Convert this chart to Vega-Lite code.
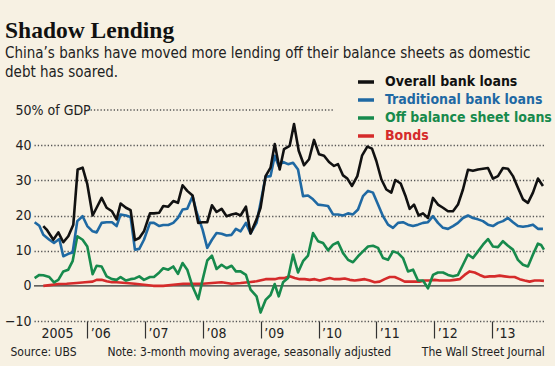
{
  "$schema": "https://vega.github.io/schema/vega-lite/v6.json",
  "autosize": "none",
  "width": 510,
  "height": 211,
  "padding": {"left": 34, "top": 110, "right": 11, "bottom": 45},
  "background": "#f7f1e3",
  "config": {"view": {"stroke": null}},
  "title": {
    "text": "Shadow Lending",
    "subtitle": ["China’s banks have moved more lending off their balance sheets as domestic", "debt has soared."],
    "anchor": "start",
    "frame": "group",
    "dx": -29,
    "offset": -8,
    "font": "Liberation Serif",
    "fontSize": 23.5,
    "fontWeight": "bold",
    "color": "#111",
    "subtitleFont": "Liberation Sans Narrow, DejaVu Sans Condensed",
    "subtitleFontSize": 15,
    "subtitleColor": "#222",
    "subtitlePadding": 4,
    "subtitleLineHeight": 19
  },
  "datasets": {
    "overall": [
      {"t":2005.239,"v":17.0},{"t":2005.297,"v":16.0},{"t":2005.412,"v":13.1},{"t":2005.499,"v":15.2},{"t":2005.585,"v":12.4},{"t":2005.671,"v":14.1},{"t":2005.758,"v":17.4},{"t":2005.833,"v":33.1},{"t":2005.919,"v":33.6},{"t":2006.0,"v":28.9},
      {"t":2006.092,"v":20.0},{"t":2006.161,"v":22.2},{"t":2006.248,"v":25.0},{"t":2006.334,"v":22.2},{"t":2006.427,"v":21.2},{"t":2006.507,"v":18.9},{"t":2006.576,"v":23.4},{"t":2006.669,"v":22.2},{"t":2006.749,"v":21.5},{"t":2006.824,"v":13.0},{"t":2006.899,"v":13.6},{"t":2006.98,"v":15.5},
      {"t":2007.084,"v":20.6},{"t":2007.153,"v":20.6},{"t":2007.245,"v":20.8},{"t":2007.314,"v":22.7},{"t":2007.401,"v":22.5},{"t":2007.487,"v":24.1},{"t":2007.568,"v":23.6},{"t":2007.648,"v":28.6},{"t":2007.729,"v":27.0},{"t":2007.821,"v":25.7},{"t":2007.919,"v":17.9},{"t":2007.994,"v":18.1},
      {"t":2008.075,"v":18.1},{"t":2008.156,"v":22.9},{"t":2008.236,"v":21.0},{"t":2008.323,"v":21.9},{"t":2008.409,"v":19.8},{"t":2008.496,"v":20.3},{"t":2008.571,"v":20.6},{"t":2008.651,"v":20.0},{"t":2008.744,"v":22.5},{"t":2008.824,"v":14.9},{"t":2008.928,"v":18.9},{"t":2008.997,"v":22.2},
      {"t":2009.084,"v":31.2},{"t":2009.17,"v":33.6},{"t":2009.242,"v":40.3},{"t":2009.328,"v":33.1},{"t":2009.403,"v":38.9},{"t":2009.501,"v":39.8},{"t":2009.576,"v":46.0},{"t":2009.657,"v":38.4},{"t":2009.749,"v":34.3},{"t":2009.836,"v":36.0},{"t":2009.922,"v":41.5},
      {"t":2010.009,"v":37.4},{"t":2010.095,"v":37.0},{"t":2010.181,"v":35.2},{"t":2010.268,"v":34.1},{"t":2010.337,"v":34.6},{"t":2010.424,"v":31.4},{"t":2010.498,"v":30.5},{"t":2010.579,"v":28.4},{"t":2010.671,"v":31.2},{"t":2010.752,"v":37.0},{"t":2010.844,"v":39.6},{"t":2010.925,"v":39.0},
      {"t":2011.0,"v":35.5},{"t":2011.086,"v":30.3},{"t":2011.173,"v":27.4},{"t":2011.259,"v":26.5},{"t":2011.328,"v":30.1},{"t":2011.421,"v":29.1},{"t":2011.501,"v":25.7},{"t":2011.576,"v":21.9},{"t":2011.651,"v":23.1},{"t":2011.732,"v":20.0},{"t":2011.807,"v":20.6},{"t":2011.893,"v":19.3},{"t":2011.98,"v":25.0},
      {"t":2012.066,"v":23.1},{"t":2012.153,"v":22.2},{"t":2012.239,"v":21.2},{"t":2012.326,"v":21.2},{"t":2012.412,"v":23.1},{"t":2012.498,"v":27.4},{"t":2012.585,"v":33.0},{"t":2012.671,"v":32.7},{"t":2012.758,"v":33.1},{"t":2012.844,"v":33.3},{"t":2012.931,"v":33.5},
      {"t":2013.017,"v":30.5},{"t":2013.104,"v":31.2},{"t":2013.19,"v":33.5},{"t":2013.277,"v":33.3},{"t":2013.363,"v":31.2},{"t":2013.449,"v":27.9},{"t":2013.536,"v":24.6},{"t":2013.622,"v":23.6},{"t":2013.709,"v":26.5},{"t":2013.795,"v":30.5},{"t":2013.882,"v":28.4}
    ],
    "traditional": [
      {"t":2005.089,"v":18.1},{"t":2005.17,"v":17.1},{"t":2005.239,"v":14.5},{"t":2005.343,"v":13.1},{"t":2005.424,"v":12.2},{"t":2005.516,"v":13.3},{"t":2005.585,"v":8.4},{"t":2005.671,"v":9.1},{"t":2005.746,"v":9.5},{"t":2005.827,"v":18.4},{"t":2005.919,"v":19.8},
      {"t":2006.0,"v":17.0},{"t":2006.092,"v":15.5},{"t":2006.161,"v":15.2},{"t":2006.248,"v":17.9},{"t":2006.334,"v":18.1},{"t":2006.427,"v":18.1},{"t":2006.507,"v":17.0},{"t":2006.576,"v":20.3},{"t":2006.669,"v":20.0},{"t":2006.749,"v":19.6},{"t":2006.824,"v":10.3},{"t":2006.899,"v":10.5},{"t":2006.98,"v":13.1},
      {"t":2007.084,"v":17.9},{"t":2007.153,"v":17.9},{"t":2007.245,"v":17.0},{"t":2007.314,"v":17.3},{"t":2007.401,"v":17.3},{"t":2007.487,"v":17.9},{"t":2007.568,"v":19.3},{"t":2007.648,"v":21.7},{"t":2007.729,"v":21.9},{"t":2007.821,"v":25.5},{"t":2007.89,"v":21.0},{"t":2007.994,"v":16.0},
      {"t":2008.075,"v":10.8},{"t":2008.156,"v":13.1},{"t":2008.236,"v":15.0},{"t":2008.323,"v":14.8},{"t":2008.409,"v":14.3},{"t":2008.496,"v":14.5},{"t":2008.571,"v":16.2},{"t":2008.651,"v":15.5},{"t":2008.744,"v":17.9},{"t":2008.824,"v":14.9},{"t":2008.928,"v":17.9},{"t":2008.997,"v":23.6},
      {"t":2009.084,"v":31.0},{"t":2009.17,"v":31.2},{"t":2009.242,"v":37.0},{"t":2009.311,"v":34.1},{"t":2009.386,"v":35.2},{"t":2009.473,"v":34.6},{"t":2009.559,"v":35.0},{"t":2009.645,"v":33.1},{"t":2009.732,"v":25.5},{"t":2009.818,"v":25.7},{"t":2009.905,"v":24.6},{"t":2009.991,"v":23.1},
      {"t":2010.078,"v":22.9},{"t":2010.164,"v":22.7},{"t":2010.251,"v":20.3},{"t":2010.337,"v":20.3},{"t":2010.424,"v":20.0},{"t":2010.51,"v":20.6},{"t":2010.596,"v":20.3},{"t":2010.683,"v":21.7},{"t":2010.769,"v":25.5},{"t":2010.856,"v":27.0},{"t":2010.942,"v":26.5},
      {"t":2011.029,"v":23.1},{"t":2011.115,"v":19.8},{"t":2011.202,"v":17.4},{"t":2011.288,"v":16.5},{"t":2011.375,"v":17.9},{"t":2011.461,"v":18.1},{"t":2011.547,"v":17.4},{"t":2011.634,"v":17.0},{"t":2011.72,"v":17.4},{"t":2011.807,"v":17.9},{"t":2011.893,"v":18.1},{"t":2011.98,"v":19.8},
      {"t":2012.066,"v":17.9},{"t":2012.153,"v":16.5},{"t":2012.239,"v":16.2},{"t":2012.326,"v":17.0},{"t":2012.412,"v":17.9},{"t":2012.498,"v":19.3},{"t":2012.585,"v":20.0},{"t":2012.671,"v":19.3},{"t":2012.758,"v":18.9},{"t":2012.844,"v":18.4},{"t":2012.931,"v":17.4},
      {"t":2013.017,"v":17.0},{"t":2013.104,"v":17.9},{"t":2013.19,"v":18.4},{"t":2013.277,"v":19.3},{"t":2013.363,"v":18.1},{"t":2013.449,"v":17.0},{"t":2013.536,"v":16.8},{"t":2013.622,"v":17.0},{"t":2013.709,"v":17.4},{"t":2013.795,"v":16.2},{"t":2013.882,"v":16.2}
    ],
    "offbalance": [
      {"t":2005.089,"v":2.2},{"t":2005.17,"v":3.1},{"t":2005.239,"v":3.0},{"t":2005.343,"v":2.5},{"t":2005.424,"v":1.0},{"t":2005.499,"v":1.7},{"t":2005.585,"v":4.1},{"t":2005.671,"v":4.6},{"t":2005.746,"v":7.0},{"t":2005.827,"v":14.1},{"t":2005.919,"v":13.1},
      {"t":2006.0,"v":11.2},{"t":2006.092,"v":3.3},{"t":2006.161,"v":5.7},{"t":2006.248,"v":5.5},{"t":2006.334,"v":2.7},{"t":2006.427,"v":1.9},{"t":2006.507,"v":1.7},{"t":2006.576,"v":2.5},{"t":2006.669,"v":1.5},{"t":2006.749,"v":1.9},{"t":2006.824,"v":2.1},{"t":2006.899,"v":2.7},{"t":2006.98,"v":1.7},
      {"t":2007.084,"v":2.5},{"t":2007.153,"v":2.5},{"t":2007.245,"v":3.8},{"t":2007.314,"v":5.0},{"t":2007.401,"v":4.6},{"t":2007.487,"v":5.5},{"t":2007.568,"v":3.4},{"t":2007.648,"v":6.5},{"t":2007.729,"v":4.6},{"t":2007.821,"v":-0.2},{"t":2007.919,"v":-3.8},{"t":2007.994,"v":1.7},
      {"t":2008.075,"v":7.2},{"t":2008.156,"v":8.6},{"t":2008.236,"v":4.8},{"t":2008.323,"v":6.0},{"t":2008.409,"v":5.0},{"t":2008.496,"v":5.7},{"t":2008.571,"v":4.1},{"t":2008.651,"v":4.1},{"t":2008.744,"v":3.1},{"t":2008.824,"v":-1.1},{"t":2008.928,"v":-3.0},{"t":2008.997,"v":-7.6},
      {"t":2009.084,"v":-4.0},{"t":2009.17,"v":-2.6},{"t":2009.242,"v":0.5},{"t":2009.311,"v":-3.0},{"t":2009.386,"v":1.0},{"t":2009.473,"v":2.2},{"t":2009.559,"v":8.9},{"t":2009.645,"v":3.8},{"t":2009.732,"v":7.0},{"t":2009.818,"v":8.6},{"t":2009.905,"v":15.0},{"t":2009.991,"v":12.7},
      {"t":2010.078,"v":12.2},{"t":2010.164,"v":10.1},{"t":2010.251,"v":11.7},{"t":2010.337,"v":12.4},{"t":2010.424,"v":9.3},{"t":2010.51,"v":7.4},{"t":2010.596,"v":6.7},{"t":2010.683,"v":8.4},{"t":2010.769,"v":9.8},{"t":2010.856,"v":11.2},{"t":2010.942,"v":11.4},
      {"t":2011.029,"v":10.8},{"t":2011.115,"v":7.9},{"t":2011.202,"v":7.4},{"t":2011.288,"v":9.8},{"t":2011.375,"v":9.3},{"t":2011.461,"v":7.9},{"t":2011.547,"v":4.1},{"t":2011.634,"v":4.6},{"t":2011.72,"v":1.5},{"t":2011.807,"v":1.5},{"t":2011.893,"v":-0.7},{"t":2011.98,"v":3.1},
      {"t":2012.066,"v":3.8},{"t":2012.153,"v":3.8},{"t":2012.239,"v":3.1},{"t":2012.326,"v":2.7},{"t":2012.412,"v":3.1},{"t":2012.498,"v":6.0},{"t":2012.585,"v":8.9},{"t":2012.671,"v":7.9},{"t":2012.758,"v":9.8},{"t":2012.844,"v":11.7},{"t":2012.931,"v":13.3},
      {"t":2013.017,"v":11.2},{"t":2013.104,"v":11.0},{"t":2013.19,"v":12.7},{"t":2013.277,"v":11.4},{"t":2013.363,"v":10.3},{"t":2013.449,"v":7.4},{"t":2013.536,"v":6.0},{"t":2013.622,"v":5.5},{"t":2013.709,"v":8.9},{"t":2013.795,"v":12.0},{"t":2013.85,"v":11.6},{"t":2013.899,"v":10.3}
    ],
    "bonds": [
      {"t":2005.239,"v":0.0},{"t":2005.354,"v":0.2},{"t":2005.499,"v":0.5},{"t":2005.643,"v":0.6},{"t":2005.816,"v":0.8},{"t":2005.96,"v":1.0},{"t":2006.092,"v":1.2},{"t":2006.161,"v":1.7},{"t":2006.248,"v":1.7},{"t":2006.334,"v":1.3},{"t":2006.427,"v":1.0},{"t":2006.507,"v":1.0},{"t":2006.669,"v":0.8},{"t":2006.824,"v":0.6},{"t":2006.98,"v":0.3},
      {"t":2007.141,"v":0.0},{"t":2007.314,"v":0.0},{"t":2007.487,"v":0.3},{"t":2007.66,"v":0.6},{"t":2007.821,"v":0.6},{"t":2007.994,"v":0.6},{"t":2008.156,"v":0.8},{"t":2008.323,"v":1.0},{"t":2008.496,"v":0.6},{"t":2008.651,"v":0.8},{"t":2008.824,"v":1.1},{"t":2008.928,"v":1.3},{"t":2009.084,"v":1.9},
      {"t":2009.242,"v":1.9},{"t":2009.328,"v":2.2},{"t":2009.415,"v":2.2},{"t":2009.501,"v":2.7},{"t":2009.588,"v":2.2},{"t":2009.674,"v":1.9},{"t":2009.761,"v":1.9},{"t":2009.847,"v":1.7},{"t":2009.934,"v":1.9},{"t":2010.02,"v":1.5},{"t":2010.107,"v":1.9},{"t":2010.193,"v":2.2},{"t":2010.279,"v":1.9},{"t":2010.366,"v":1.9},{"t":2010.452,"v":2.1},{"t":2010.539,"v":1.7},{"t":2010.625,"v":1.5},{"t":2010.712,"v":1.7},{"t":2010.798,"v":1.9},{"t":2010.885,"v":1.5},{"t":2010.971,"v":1.0},
      {"t":2011.058,"v":1.2},{"t":2011.144,"v":1.9},{"t":2011.231,"v":2.5},{"t":2011.317,"v":2.5},{"t":2011.403,"v":1.9},{"t":2011.49,"v":1.2},{"t":2011.576,"v":1.2},{"t":2011.663,"v":1.2},{"t":2011.749,"v":1.2},{"t":2011.836,"v":1.5},{"t":2011.922,"v":1.5},{"t":2012.009,"v":1.7},{"t":2012.095,"v":1.5},{"t":2012.181,"v":1.5},{"t":2012.268,"v":1.5},{"t":2012.354,"v":1.7},{"t":2012.441,"v":1.9},{"t":2012.527,"v":3.1},{"t":2012.614,"v":4.1},{"t":2012.7,"v":3.8},{"t":2012.787,"v":3.1},{"t":2012.873,"v":2.5},{"t":2012.96,"v":2.7},
      {"t":2013.046,"v":2.7},{"t":2013.132,"v":2.9},{"t":2013.219,"v":2.7},{"t":2013.305,"v":2.5},{"t":2013.392,"v":2.5},{"t":2013.478,"v":1.9},{"t":2013.565,"v":1.5},{"t":2013.651,"v":1.2},{"t":2013.738,"v":1.5},{"t":2013.824,"v":1.5},{"t":2013.899,"v":1.4}
    ],
    "grid50": [{"a": 2006.0, "b": 2010.27, "v": 50}]
  },
  "encoding": {
    "x": {
      "field": "t", "type": "quantitative",
      "scale": {"domain": [2005.078, 2013.9], "nice": false, "zero": false},
      "axis": {
        "values": [2005.078, 2006, 2007, 2008, 2009, 2010, 2011, 2012, 2013],
        "labelExpr": "datum.value < 2006 ? '2005' : '’' + substring(toString(datum.value), 2, 4)",
        "grid": false, "domain": false,
        "tickSize": 17, "tickWidth": 1.2,
        "tickColor": {"condition": {"test": "datum.value < 2006", "value": "rgba(0,0,0,0)"}, "value": "#333"},
        "labelAlign": "left", "labelBaseline": "top",
        "labelOffset": {"condition": {"test": "datum.value < 2006", "value": 7}, "value": 3},
        "labelPadding": -12,
        "labelFont": "Liberation Sans Narrow, DejaVu Sans Condensed",
        "labelFontSize": 14, "labelColor": "#222", "labelFlush": false, "labelOverlap": false,
        "title": "Source: UBS\u00a0\u00a0\u00a0\u00a0\u00a0\u00a0\u00a0\u00a0\u00a0Note: 3-month moving average, seasonally adjusted\u00a0\u00a0\u00a0\u00a0\u00a0\u00a0\u00a0\u00a0\u00a0The Wall Street Journal",
        "titleFont": "Liberation Sans Narrow, DejaVu Sans Condensed",
        "titleFontSize": 12, "titleFontWeight": "normal", "titleColor": "#222",
        "titleAnchor": "start", "titleAlign": "left", "titleX": -24, "titlePadding": 6
      }
    },
    "y": {
      "field": "v", "type": "quantitative",
      "scale": {"domain": [-10, 50], "nice": false, "zero": false},
      "axis": {
        "values": [-10, 0, 10, 20, 30, 40, 50],
        "labelExpr": "datum.value == 50 ? '50% of GDP' : datum.value < 0 ? '−10' : datum.label",
        "domain": false, "ticks": false,
        "labelAlign": {"condition": {"test": "datum.value == 50", "value": "left"}, "value": "right"},
        "labelPadding": {"condition": {"test": "datum.value == 50", "value": 19}, "value": 3},
        "labelFont": "Liberation Sans Narrow, DejaVu Sans Condensed",
        "labelFontSize": 14, "labelColor": "#222",
        "grid": true, "gridColor": "#555", "gridWidth": 1.3, "gridDash": [1.3, 2],
        "gridOpacity": {"condition": {"test": "datum.value == 50 || datum.value == 0", "value": 0}, "value": 1},
        "title": null
      }
    }
  },
  "layer": [
    {
      "data": {"name": "grid50"},
      "mark": {"type": "rule", "color": "#555", "strokeWidth": 1.3, "strokeDash": [1.3, 2]},
      "encoding": {"x": {"field": "a", "type": "quantitative"}, "x2": {"field": "b"}, "y": {"field": "v", "type": "quantitative"}}
    },
    {
      "data": {"name": "grid50"},
      "mark": {"type": "rule", "color": "#333", "strokeWidth": 1.2},
      "encoding": {"y": {"datum": 0, "type": "quantitative"}, "x": null}
    },
    {
      "data": {"name": "bonds"},
      "mark": {"type": "line", "strokeWidth": 2.6, "strokeJoin": "round"},
      "encoding": {
        "color": {
          "datum": "Bonds", "type": "nominal",
          "scale": {"domain": ["Overall bank loans", "Traditional bank loans", "Off balance sheet loans", "Bonds"], "range": ["#111111", "#1f69a3", "#178a4c", "#d52b2b"]},
          "legend": {
            "orient": "none", "legendX": 322, "legendY": -38, "title": null,
            "symbolType": "stroke", "symbolStrokeWidth": 3.5, "symbolSize": 256,
            "labelFont": "DejaVu Sans Condensed", "labelFontWeight": "bold", "labelFontSize": 14,
            "labelOffset": 9, "rowPadding": 1, "labelLimit": 300,
            "encode": {"labels": {"update": {"fill": {"scale": "color", "field": "value"}}}}
          }
        }
      }
    },
    {
      "data": {"name": "offbalance"},
      "mark": {"type": "line", "strokeWidth": 2.6, "strokeJoin": "round"},
      "encoding": {"color": {"datum": "Off balance sheet loans", "type": "nominal"}}
    },
    {
      "data": {"name": "traditional"},
      "mark": {"type": "line", "strokeWidth": 2.6, "strokeJoin": "round"},
      "encoding": {"color": {"datum": "Traditional bank loans", "type": "nominal"}}
    },
    {
      "data": {"name": "overall"},
      "mark": {"type": "line", "strokeWidth": 2.6, "strokeJoin": "round"},
      "encoding": {"color": {"datum": "Overall bank loans", "type": "nominal"}}
    }
  ]
}
